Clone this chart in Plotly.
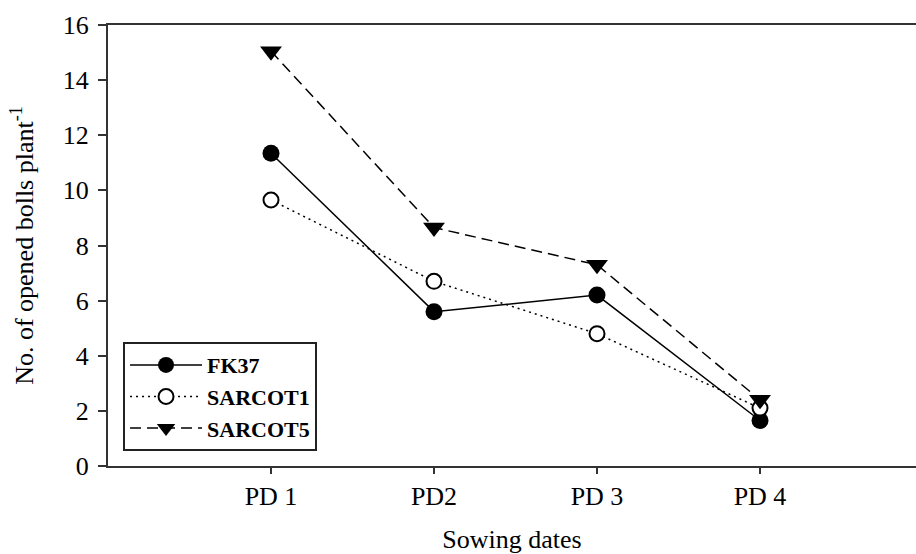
import plotly.graph_objects as go

categories = ["PD 1", "PD2", "PD 3", "PD 4"]
fk37 = [11.35, 5.6, 6.2, 1.65]
sarcot1 = [9.65, 6.7, 4.8, 2.1]
sarcot5 = [15.05, 8.65, 7.3, 2.4]
y_ticks = [0, 2, 4, 6, 8, 10, 12, 14, 16]

FONT = "Liberation Serif, Times New Roman, serif"
AX = "#333333"

fig = go.Figure()
fig.add_trace(go.Scatter(
    x=categories, y=fk37, name="FK37", mode="lines+markers",
    line=dict(color="black", width=1.5, dash="solid"),
    marker=dict(symbol="circle", size=17, color="black"),
))
fig.add_trace(go.Scatter(
    x=categories, y=sarcot1, name="SARCOT1", mode="lines+markers",
    line=dict(color="black", width=1.5, dash="2px,4px"),
    marker=dict(symbol="circle", size=15, color="white", line=dict(color="black", width=2)),
))
fig.add_trace(go.Scatter(
    x=categories, y=sarcot5, name="SARCOT5", mode="lines+markers",
    line=dict(color="black", width=1.5, dash="11px,6px"),
    marker=dict(symbol="triangle-down", size=19, color="black"),
))

fig.update_layout(
    width=916, height=554,
    margin=dict(l=108, r=0, t=25, b=88, autoexpand=False),
    paper_bgcolor="white", plot_bgcolor="white",
    font=dict(family=FONT, size=26, color="black"),
    showlegend=True,
    legend=dict(
        x=0.0186, y=0.281, xanchor="left", yanchor="top",
        bgcolor="white", bordercolor="#222222", borderwidth=2,
        font=dict(family=FONT, size=22, color="black", weight="bold"),
        itemwidth=72, tracegroupgap=0,
        entrywidth=160, entrywidthmode="pixels",
    ),
    xaxis=dict(
        type="category", range=[-1, 3.957], automargin=False,
        showline=True, linecolor=AX, linewidth=2, mirror=True,
        ticks="outside", ticklen=6, tickcolor=AX, tickwidth=2,
        showgrid=False, zeroline=False,
        tickfont=dict(family=FONT, size=26),
        title=dict(text="Sowing dates", font=dict(family=FONT, size=26), standoff=26),
    ),
    yaxis=dict(
        range=[0, 16], tickvals=y_ticks, automargin=False,
        showline=True, linecolor=AX, linewidth=2, mirror=False,
        ticks="outside", ticklen=8, tickcolor=AX, tickwidth=2,
        showgrid=False, zeroline=False,
        tickfont=dict(family=FONT, size=26),
        ticklabelstandoff=4,
        title=dict(text="No. of opened bolls plant<sup>-1</sup>", font=dict(family=FONT, size=26), standoff=22),
    ),
)

fig.write_html("out.html")
